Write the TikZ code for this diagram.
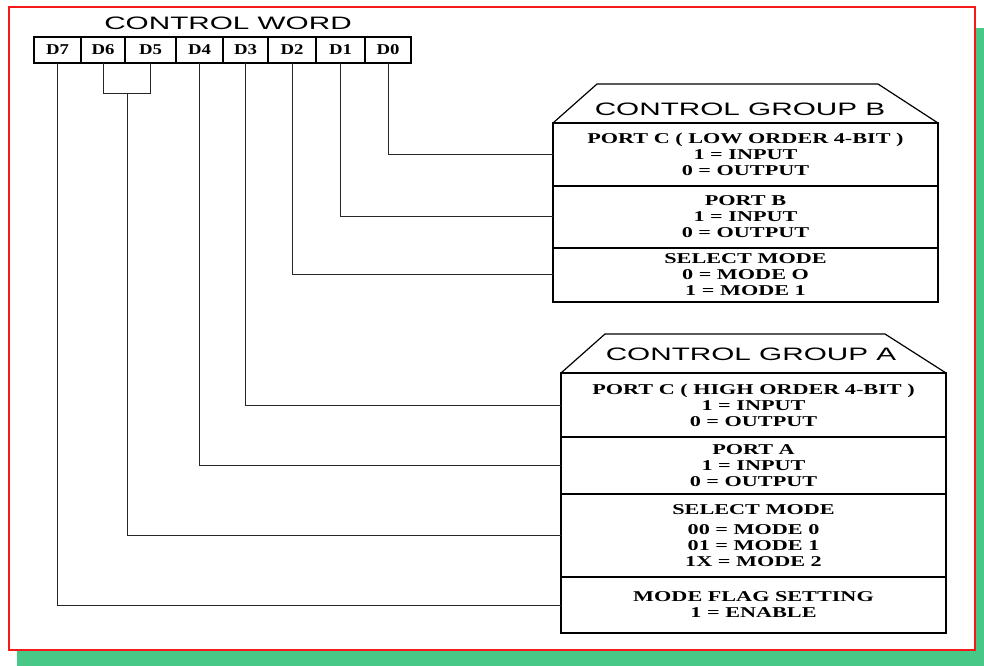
\documentclass[tikz,border=0pt]{standalone}
\usepackage{fontspec}
\newfontfamily\headfont[FakeStretch=1.65]{Liberation Sans}
\newfontfamily\bodyfont[FakeStretch=1.48]{Liberation Serif}
\newfontfamily\bitfont[FakeStretch=1.25]{Liberation Serif}
\usetikzlibrary{positioning}
\definecolor{shadowgreen}{RGB}{72,200,135}
\definecolor{framered}{RGB}{245,25,25}

\begin{document}
\begin{tikzpicture}[
				x=0.75pt, y=-0.75pt,
				bitcell/.style={rectangle, draw=black, line width=0.9pt, outer sep=0pt, inner sep=0pt, minimum height=19.5pt, font=\bitfont\bfseries\fontsize{11.25}{12}\selectfont},
				rowbox/.style={rectangle, draw=black, line width=0.9pt, outer sep=0pt, inner sep=0pt, minimum width=288.75pt, align=center, font=\bodyfont\bfseries\fontsize{11.25}{12}\selectfont},
				headtitle/.style={font=\headfont\fontsize{13.5}{14}\selectfont, inner sep=0pt},
				hat/.style={draw=black, line width=0.9pt},
				wire/.style={draw=black!85, line width=0.75pt}
			]

			\useasboundingbox (0,0) rectangle (984,666);
			\fill[shadowgreen] (17,28) rectangle (984,666);
			\draw[framered, line width=1.5pt, fill=white] (9,7) rectangle (975,650);

			% Control word
			\node[headtitle] (cw) at (228,23) {CONTROL WORD};
			\node[bitcell, minimum width=35.25pt] (d7) at (57.5,50) {D7};
			\node[bitcell, minimum width=33pt, right=0pt of d7] (d6) {D6};
			\node[bitcell, minimum width=38.25pt, right=0pt of d6] (d5) {D5};
			\node[bitcell, minimum width=35.25pt, right=0pt of d5] (d4) {D4};
			\node[bitcell, minimum width=33.75pt, right=0pt of d4] (d3) {D3};
			\node[bitcell, minimum width=36pt, right=0pt of d3] (d2) {D2};
			\node[bitcell, minimum width=36.75pt, right=0pt of d2] (d1) {D1};
			\node[bitcell, minimum width=34.5pt, right=0pt of d1] (d0) {D0};

			% Control group B
			\node[rowbox, minimum height=47.25pt] (bpc) at (745.5,154.5) {PORT C ( LOW ORDER 4-BIT )\\ 1 = INPUT\\ 0 = OUTPUT};
			\node[rowbox, minimum height=46.5pt, below=0pt of bpc] (bpb) {PORT B\\ 1 = INPUT\\ 0 = OUTPUT};
			\node[rowbox, minimum height=40.5pt, below=0pt of bpb] (bsel) {SELECT MODE\\ 0 = MODE O\\ 1 = MODE 1};
			\draw[hat] (bpc.north west) -- ++(44,-39) -- ++(281,0) -- (bpc.north east);
			\node[headtitle] (grb) at (740,109) {CONTROL GROUP B};

			% Control group A
			\node[rowbox, minimum height=48pt] (apc) at (753.5,405) {PORT C ( HIGH ORDER 4-BIT )\\ 1 = INPUT\\ 0 = OUTPUT};
			\node[rowbox, minimum height=42.75pt, below=0pt of apc] (apa) {PORT A\\ 1 = INPUT\\ 0 = OUTPUT};
			\node[rowbox, minimum height=62.25pt, below=0pt of apa] (asel) {SELECT MODE\\[3pt] 00 = MODE 0\\ 01 = MODE 1\\ 1X = MODE 2};
			\node[rowbox, minimum height=42pt, below=0pt of asel] (aflag) {MODE FLAG SETTING\\ 1 = ENABLE};
			\draw[hat] (apc.north west) -- ++(44,-39) -- ++(280,0) -- (apc.north east);
			\node[headtitle] (gra) at (751,354) {CONTROL GROUP A};

			% bit lines
			\coordinate (brk) at (127,94);
			\draw[wire] (d0.south) |- (bpc.west);
			\draw[wire] (d1.south) |- (bpb.west);
			\draw[wire] (d2.south) |- (bsel.west);
			\draw[wire] (d3.south) |- (apc.west);
			\draw[wire] (d4.south) |- (apa.west);
			\draw[wire] (d6.south) -- (d6.south |- brk) -- (d5.south |- brk) -- (d5.south);
			\draw[wire] (brk) |- (asel.west);
			\draw[wire] (d7.south) |- (aflag.west);

		\end{tikzpicture}
\end{document}
